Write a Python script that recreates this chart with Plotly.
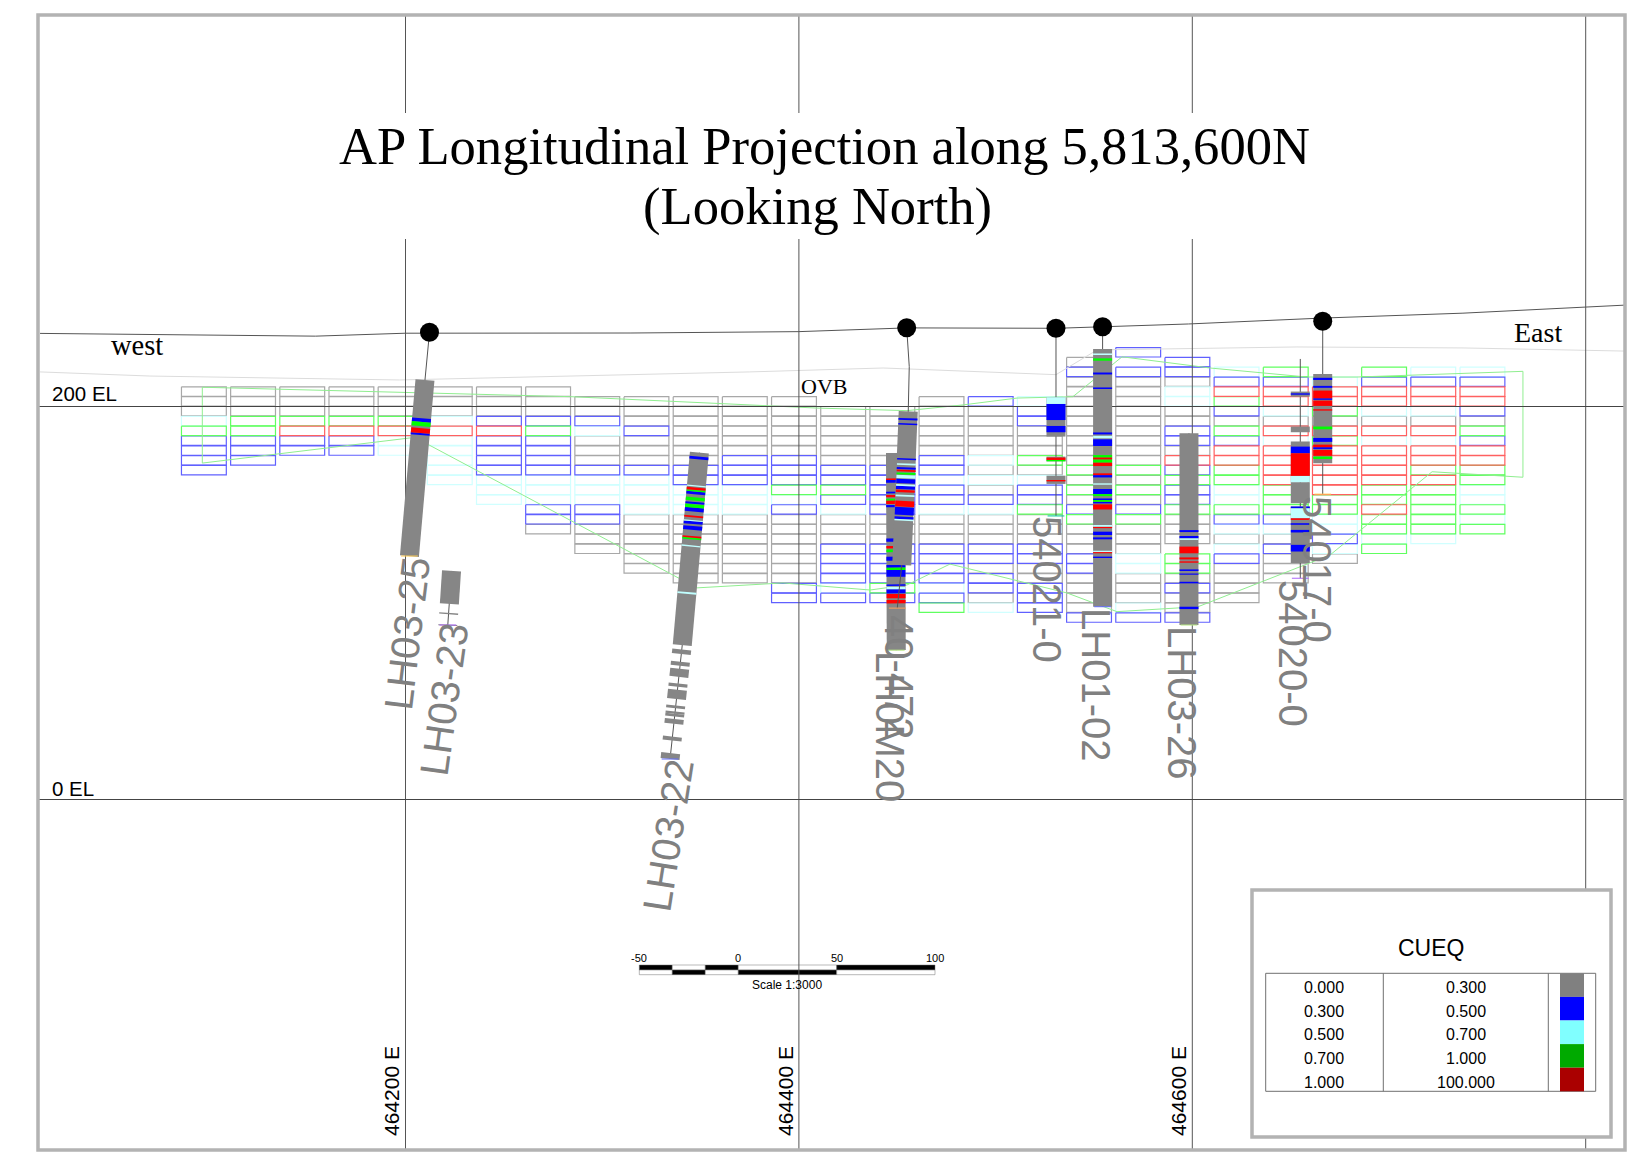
import numpy as np
import plotly.graph_objects as go

# block model, one string per 25 m column, top row first
# g grey, b blue, c cyan, n green, r red, . no block
BLOCK_FIRST_E = 464097.5
BLOCK_TOP_EL = 230
BLOCK_COLUMNS = [
    "....gggcnbbbb",
    "....gggnnbbb",
    "....gggnrbb",
    "....gggnrbb",
    "....gggnrcc",
    "....gggcrccccc",
    "....gggbrbbbbccc",
    "....gggbnbbbbcccbbg",
    ".....ggbcgggbcccbbggg",
    ".....gggbgggbccccgggggg",
    ".....gggggggbbcccggggggg",
    ".....ggggggbbbcccggggggg",
    ".....ggggggbbbncbgggggggbb",
    "......ggggggbbnbcgggbbbbcb",
    "......ggggggbbbbbgggbbbbnb",
    ".....ggggggbbcbbcgggbbbbcbn",
    ".....bgggggcgcgbcgggbbgbbgc",
    ".....cbbgggngcbbngggbbggbbb",
    ".gbgggggggggngngbngggbbggggb",
    "b.bgggggggggngngbngggccgggcb",
    ".bbgccggbbgrbnbbnggg.nngbggb",
    "..cbrnbgnbrrnnccnbcgcbgggg",
    "..nbrrcgrcrrrrnnnbcgbggg",
    "...crrngrnrrrrrnnccbcg",
    "..nbrrcgrcrrrrnnrnncn",
    "..cbrrcgrcrrnrnnnnnc",
    "..cbrrbgnbrrnnccncn",
]

# surface and overburden traces
SURFACE_E = [464014.2, 464074.1, 464154.3, 464200, 464314.6, 464400, 464455, 464531, 464554.4, 464598, 464666, 464737.6, 464820]
SURFACE_EL = [237.2, 236.6, 235.8, 237.3, 237.4, 238.1, 240, 239.8, 240.6, 242, 245, 247.5, 251.6]
OVB_E = [464014.2, 464070, 464197, 464375, 464442.8, 464530.7, 464551.6, 464653.2, 464737.6, 464820]
OVB_EL = [217.6, 215.5, 213.5, 217.6, 219.6, 216.2, 228.8, 230.3, 229.8, 228.2]

# mineralised envelope
ENV_E = [464096.7, 464284.1, 464375.1, 464409.2, 464455, 464483.4, 464510.9, 464539.3, 464564.3, 464609, 464658.3, 464683.7,
         464768.1, 464768.1, 464721.9, 464670, 464602.9, 464561.7, 464536.3, 464476.8, 464455, 464436.2, 464391.9, 464348.2,
         464212, 464202.3, 464096.7, 464096.7]
ENV_EL = [209.8, 205, 200.8, 199.2, 197.9, 200.8, 204.3, 205, 225.3, 219.6, 215, 215,
          217.9, 164, 166.8, 124.4, 98.1, 95.6, 105.1, 119.8, 109.2, 106.6, 110.2, 107.7,
          180.4, 184, 171.2, 209.8]

# drill holes: path, collar, logged core, CUEQ intervals (elevation top, bottom)
H25_E = [464212.2, 464209.9, 464202]
H25_EL = [237.8, 213.5, 123.9]
H25_CORE = [(213.5, 123.9)]
H25_GRADES = [("b", 194, 192.2), ("n", 192.2, 190), ("r", 189, 186.5), ("b", 186.5, 185.5)]

H23_E = [464223.4, 464222.3, 464221.5]
H23_EL = [116.3, 99.5, 88.8]
H23_CORE = [(116.3, 99.5), (95, 94.3), (89, 88.5)]

H22_E = [464349.4, 464340.7, 464334.5]
H22_EL = [176.5, 78.6, 20.6]
H22_CORE = [(176.5, 78.6), (76.3, 74), (70.1, 68.1), (66.5, 62.4), (59, 57.4), (55.8, 51.2), (47.8, 46.4), (44.8, 43.6),
            (43.6, 42.2), (41, 38.5), (32, 30), (23.6, 20.6)]
H22_GRADES = [("b", 174.5, 173.1), ("c", 159.9, 159.2), ("r", 158.7, 157.5), ("n", 157.5, 156.7), ("b", 156.7, 155.3),
              ("n", 153.8, 152.1), ("b", 151.4, 150.4), ("n", 150.2, 148.5), ("b", 148.5, 146.5), ("r", 144.5, 143.6),
              ("c", 142.2, 141.6), ("b", 141.6, 140.2), ("b", 139.2, 137.2), ("r", 134.1, 133.3), ("n", 133.3, 132.4),
              ("c", 129.4, 128.7), ("c", 105.6, 104.6)]

HM20_E = [464449.1, 464449.5]
HM20_EL = [176.3, 76]
HM20_CORE = [(176.3, 76)]
HM20_GRADES = [("r", 163.4, 162.6), ("b", 162.6, 161.2), ("b", 156.7, 155.8), ("r", 155, 153.8), ("n", 153.1, 152.1),
               ("r", 152.1, 150.4), ("b", 149.9, 148.7), ("b", 132.9, 131.2), ("r", 129, 127.8), ("n", 127.3, 125.9),
               ("b", 123.6, 121.5), ("b", 119.3, 118), ("n", 118, 116.8), ("b", 116.8, 113.4), ("b", 109.5, 108.7),
               ("c", 108.3, 107), ("b", 107, 104.9), ("r", 104.6, 102.4), ("r", 101.5, 99.8)]

H472_E = [464454.8, 464456.1, 464455.6, 464454.8, 464454.3, 464452.3, 464450]
H472_EL = [240.1, 220.3, 198.2, 174.4, 161.1, 119.3, 97.4]
H472_CORE = [(197.5, 119.3)]
H472_GRADES = [("b", 194, 193.1), ("b", 191.4, 190.6), ("b", 173.6, 172.8), ("c", 171, 170.2), ("b", 169, 168),
               ("r", 167.7, 166.8), ("n", 166.3, 165.3), ("c", 165.1, 163.4), ("b", 163.1, 160.9), ("c", 160.4, 159.5),
               ("b", 159.5, 157.8), ("r", 157.5, 156.3), ("c", 155, 154.1), ("r", 151.9, 149), ("b", 148.7, 144.8),
               ("b", 143.9, 142.6), ("c", 142.6, 141.9)]

H21_E = [464530.7, 464530.7]
H21_EL = [239.8, 144.3]
H21_CORE = [(204.7, 184.7), (174.5, 172.1), (164.8, 160.6)]
H21_GRADES = [("c", 204.7, 201.3), ("b", 201.3, 193.1), ("b", 190.1, 186.9), ("r", 174, 172.8), ("n", 172.8, 172.1),
              ("r", 162.6, 161.9)]

H02_E = [464554.4, 464554.4]
H02_EL = [240.6, 98.1]
H02_CORE = [(229.3, 98.1)]
H02_GRADES = [("c", 227, 226.2), ("n", 224.5, 223.3), ("b", 217.3, 216.3), ("b", 209.7, 208.9), ("b", 186.8, 185.8),
              ("c", 185.1, 183.8), ("b", 183.3, 179.9), ("n", 175.3, 174), ("r", 174, 173.1), ("n", 173.1, 171.4),
              ("r", 171.4, 169.7), ("r", 166, 165.1), ("b", 165.1, 163.9), ("c", 160.9, 160.2), ("b", 158, 155.4),
              ("n", 155.4, 154.4), ("b", 153.2, 152.4), ("n", 152.4, 151.5), ("b", 151.5, 150.7), ("r", 150.2, 147.6),
              ("c", 139.7, 138.8), ("r", 138.7, 138.1), ("b", 136.3, 134.6), ("b", 133.4, 132.4), ("c", 126.6, 125.9),
              ("r", 125.9, 125.3), ("b", 123.6, 122.9)]

H26_E = [464598.3, 464598.3]
H26_EL = [186.4, 88.8]
H26_CORE = [(186.4, 88.8)]
H26_GRADES = [("b", 137.1, 136.1), ("b", 134.1, 132.9), ("c", 132.9, 132.1), ("r", 128.7, 125.3), ("r", 123.2, 122.2),
              ("r", 121.2, 120.5), ("b", 117.1, 116.3), ("b", 115, 114.4), ("b", 110.8, 110), ("b", 98.1, 96.9)]

H20_E = [464654.9, 464654.9]
H20_EL = [224.2, 112.6]
H20_CORE = [(207.6, 205), (189.8, 186.9), (182.2, 161.5), (161.5, 150.8), (149.1, 120.3)]
H20_GRADES = [("b", 206.7, 206), ("b", 179.6, 176.2), ("r", 176.2, 164.7), ("c", 164.7, 161.5), ("b", 149.1, 148.2),
              ("c", 148.2, 143.1), ("r", 143.1, 142.3), ("b", 140.6, 139.8), ("b", 137.2, 135.9), ("b", 129.6, 126.2)]

H17_E = [464666.3, 464666.3]
H17_EL = [243.4, 155.4]
H17_CORE = [(216.6, 171.1)]
H17_GRADES = [("b", 214.6, 213.5), ("b", 210.5, 209.5), ("r", 208.1, 204.2), ("b", 204.2, 203.4), ("r", 203, 200.3),
              ("r", 198.6, 197.9), ("n", 189.8, 188.4), ("b", 184, 182), ("r", 180.6, 179.3), ("b", 179.3, 178.3),
              ("r", 177.9, 174.9), ("n", 174.5, 173.3)]

HOLES = [
    (H25_E, H25_EL, H25_CORE, H25_GRADES, True),
    (H23_E, H23_EL, H23_CORE, [], False),
    (H22_E, H22_EL, H22_CORE, H22_GRADES, False),
    (HM20_E, HM20_EL, HM20_CORE, HM20_GRADES, False),
    (H472_E, H472_EL, H472_CORE, H472_GRADES, True),
    (H21_E, H21_EL, H21_CORE, H21_GRADES, True),
    (H02_E, H02_EL, H02_CORE, H02_GRADES, True),
    (H26_E, H26_EL, H26_CORE, H26_GRADES, False),
    (H20_E, H20_EL, H20_CORE, H20_GRADES, False),
    (H17_E, H17_EL, H17_CORE, H17_GRADES, True),
]

# hole labels: text, pixel centre, rotation
HOLE_LABELS = [
    ("LH03-25", 407, 634, -83), ("LH03-23", 444, 700, -82), ("LH03-22", 668, 836, -81),
    ("LH0M20", 890, 726, 90), ("40-472", 899, 678, 90), ("54021-0", 1047, 589, 90),
    ("LH01-02", 1096, 684, 90), ("LH03-26", 1182, 702, 90), ("54020-0", 1293, 653, 90), ("54017-0", 1317, 569, 90),
]

GRID_E = [464200, 464400, 464600, 464800]
GRID_EL = [200, 0]

LEGEND_TITLE = "CUEQ"
LEGEND_FROM = ["0.000", "0.300", "0.500", "0.700", "1.000"]
LEGEND_TO = ["0.300", "0.500", "0.700", "1.000", "100.000"]
LEGEND_COLORS = ["#808080", "#0000ff", "#80ffff", "#00aa00", "#aa0000"]

SCALE_TICKS = [-50, 0, 50, 100]

BLOCK_LINE = {"g": "#a8a8a8", "b": "#6060ff", "c": "#d0ffff", "n": "#60ff60", "r": "#ff6060"}
GRADE_COLOR = {"b": "#0000ff", "c": "#c0ffff", "n": "#00ff00", "r": "#ff0000"}

# page body has an 8 px margin, so the figure is 8 px short on each side
PAGE_W, PAGE_H = 1650, 1163
OFF = 8
W, H = PAGE_W - OFF, PAGE_H - OFF
LX, RX = 38, 1625


def e_of(px):
    return 464200 + (px - 405.5) / 1.967


def el_of(py):
    return (799.5 - py) / 1.965


def xp(px):
    return (px - OFF) / W


def yp(py):
    return 1 - (py - OFF) / H


fig = go.Figure()

# block outlines, one trace per grade class
for code in ["g", "c", "b", "n", "r"]:
    xs, ys = [], []
    for i, col in enumerate(BLOCK_COLUMNS):
        mid = BLOCK_FIRST_E + 25 * i
        for k, ch in enumerate(col):
            if ch == code:
                top = BLOCK_TOP_EL - 5 * k
                bot = top - 4.8
                xs += [mid - 11.4, mid + 11.4, mid + 11.4, mid - 11.4, mid - 11.4, None]
                ys += [top, top, bot, bot, top, None]
    fig.add_trace(go.Scatter(x=xs, y=ys, mode="lines", line=dict(color=BLOCK_LINE[code], width=1.2)))

fig.add_trace(go.Scatter(x=OVB_E, y=OVB_EL, mode="lines", line=dict(color="#dcdcdc", width=1)))
fig.add_trace(go.Scatter(x=ENV_E, y=ENV_EL, mode="lines", line=dict(color="#90ee90", width=1)))
fig.add_trace(go.Scatter(x=SURFACE_E, y=SURFACE_EL, mode="lines", line=dict(color="#555555", width=1)))

# grid, broken behind the title by the white box below
for e in GRID_E:
    fig.add_trace(go.Scatter(x=[e, e], y=[el_of(15), el_of(1150)], mode="lines", line=dict(color="#555555", width=1)))
for el in GRID_EL:
    fig.add_trace(go.Scatter(x=[e_of(LX), e_of(RX)], y=[el, el], mode="lines", line=dict(color="#444444", width=1)))

# drill holes
for he, hel, core, grades, has_collar in HOLES:
    order = np.argsort(hel)
    at = lambda v: float(np.interp(v, np.array(hel)[order], np.array(he)[order]))
    fig.add_trace(go.Scatter(x=he, y=hel, mode="lines", line=dict(color="#555555", width=1)))
    xs, ys = [], []
    for top, bot in core:
        xs += [at(top), at(bot), None]
        ys += [top, bot, None]
    fig.add_trace(go.Scatter(x=xs, y=ys, mode="lines", line=dict(color="#868686", width=19)))
    for code, color in GRADE_COLOR.items():
        xs, ys = [], []
        for c, top, bot in grades:
            if c == code:
                xs += [at(top), at(bot), None]
                ys += [top, bot, None]
        if xs:
            fig.add_trace(go.Scatter(x=xs, y=ys, mode="lines", line=dict(color=color, width=19)))
    fig.add_trace(go.Scatter(x=[he[-1]], y=[hel[-1]], mode="markers",
                             marker=dict(symbol="line-ew-open", size=12, line=dict(color="#444444", width=1))))
    if has_collar:
        fig.add_trace(go.Scatter(x=[he[0]], y=[hel[0]], mode="markers", marker=dict(color="black", size=19)))

shapes = [
    # white box behind the title
    dict(type="rect", xref="paper", yref="paper", x0=xp(330), x1=xp(1320), y0=yp(239), y1=yp(113),
         fillcolor="white", line=dict(width=0)),
    # outer frame
    dict(type="rect", xref="paper", yref="paper", x0=xp(LX), x1=xp(RX), y0=yp(1150), y1=yp(15),
         line=dict(color="#b3b3b3", width=3.5)),
    # legend box
    dict(type="rect", xref="paper", yref="paper", x0=xp(1252), x1=xp(1611), y0=yp(1137), y1=yp(890),
         fillcolor="white", line=dict(color="#b3b3b3", width=3.5)),
    dict(type="rect", xref="paper", yref="paper", x0=xp(1265.7), x1=xp(1595.7), y0=yp(1091.3), y1=yp(973.3),
         line=dict(color="#707070", width=1)),
]
for vx in [1383.3, 1548.3]:
    shapes.append(dict(type="line", xref="paper", yref="paper", x0=xp(vx), x1=xp(vx), y0=yp(1091.3), y1=yp(973.3),
                       line=dict(color="#707070", width=1)))
for i, c in enumerate(LEGEND_COLORS):
    shapes.append(dict(type="rect", xref="paper", yref="paper", x0=xp(1560), x1=xp(1584),
                       y0=yp(973.3 + 23.6 * (i + 1)), y1=yp(973.3 + 23.6 * i), fillcolor=c, line=dict(width=0)))

# scale bar, alternating black and white
edges = [639.3, 672.3, 705.3, 738.3, 836.7, 935]
for i in range(5):
    up, low = ("black", "white") if i % 2 == 0 else ("white", "black")
    shapes.append(dict(type="rect", xref="paper", yref="paper", layer="below", x0=xp(edges[i]), x1=xp(edges[i + 1]),
                       y0=yp(970), y1=yp(965), fillcolor=up, line=dict(color="#707070", width=0.5)))
    shapes.append(dict(type="rect", xref="paper", yref="paper", layer="below", x0=xp(edges[i]), x1=xp(edges[i + 1]),
                       y0=yp(974.7), y1=yp(970), fillcolor=low, line=dict(color="#707070", width=0.5)))


def label(text, px, py, size, font="Liberation Sans", color="black", angle=0, xanchor="center"):
    fig.add_annotation(x=xp(px), y=yp(py), xref="paper", yref="paper", text=text, showarrow=False, textangle=angle,
                       xanchor=xanchor, yanchor="middle", font=dict(family=font, size=size, color=color))


label("AP Longitudinal Projection along 5,813,600N", 824, 146, 52.6, "Liberation Serif")
label("(Looking North)", 817, 207, 52.6, "Liberation Serif")
label("west", 137, 345, 28.5, "Liberation Serif")
label("East", 1538, 332, 28, "Liberation Serif")
label("OVB", 824, 387, 22, "Liberation Serif")

label("200 EL", 50, 394, 20.5, xanchor="left")
label("0 EL", 50, 788, 20.5, xanchor="left")
for e, px in zip(GRID_E[:3], [391, 785, 1178]):
    label(f"{e} E", px, 1091, 21, angle=-90)

for text, px, py, angle in HOLE_LABELS:
    label(text, px, py, 40, color="#808080", angle=angle)

label(LEGEND_TITLE, 1430.7, 948, 23)
for i, (a, b) in enumerate(zip(LEGEND_FROM, LEGEND_TO)):
    row = 987.3 + 23.7 * i
    label(a, 1324.3, row, 16)
    label(b, 1466, row, 16)

for tick, px in zip(SCALE_TICKS, [639.3, 738.3, 836.7, 935]):
    label(str(tick), px, 958, 11)
label("Scale 1:3000", 787, 985, 12)

fig.update_layout(
    width=W, height=H, showlegend=False, paper_bgcolor="white", plot_bgcolor="white",
    margin=dict(l=0, r=0, t=0, b=0), shapes=shapes, hovermode=False,
    xaxis=dict(visible=False, range=[e_of(OFF), e_of(PAGE_W)], fixedrange=True),
    yaxis=dict(visible=False, range=[el_of(PAGE_H), el_of(OFF)], fixedrange=True),
)

fig.write_html("out.html")
